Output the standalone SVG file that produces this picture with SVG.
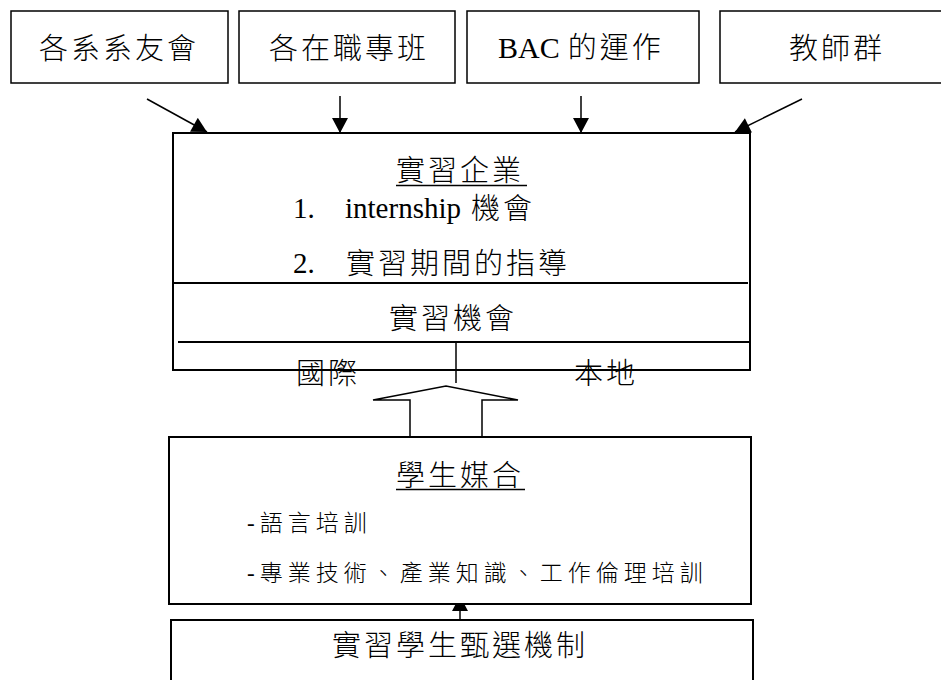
<svg xmlns="http://www.w3.org/2000/svg" width="941" height="680" viewBox="0 0 941 680">
<style>
.bg{fill:#fff}
.top{fill:#fff;stroke:#000;stroke-width:1.5}
.box{fill:#fff;stroke:#000;stroke-width:2}
.ln{stroke:#000;stroke-width:2;fill:none}
.thin{stroke:#000;stroke-width:1.5;fill:none}
.t{font-family:"Liberation Serif","Noto Sans CJK TC",serif;font-size:29px;font-weight:300;letter-spacing:3px;fill:#000}
.s{font-family:"Liberation Serif","Noto Sans CJK TC",serif;font-size:23px;font-weight:300;letter-spacing:5px;fill:#000}
.lat{font-family:"Liberation Serif",serif;font-size:30px;font-weight:400;letter-spacing:0;fill:#000}
.lat2{font-family:"Liberation Serif",serif;font-size:29px;font-weight:400;letter-spacing:0;fill:#000}
</style>
<defs>
<marker id="ah" markerUnits="userSpaceOnUse" markerWidth="16" markerHeight="16" viewBox="0 0 14 15" refX="14" refY="7.5" orient="auto">
<path d="M0,0 L14,7.5 L0,15 z" fill="#000"/>
</marker>
</defs>
<rect class="bg" x="0" y="0" width="941" height="680"/>

<g id="connectors">
<line class="thin" x1="147" y1="99" x2="207" y2="132" marker-end="url(#ah)"/>
<line class="thin" x1="340" y1="96" x2="340" y2="133" marker-end="url(#ah)"/>
<line class="thin" x1="581" y1="96" x2="581" y2="133" marker-end="url(#ah)"/>
<line class="thin" x1="802" y1="99" x2="735" y2="132" marker-end="url(#ah)"/>
<line class="thin" x1="460" y1="628" x2="460" y2="596" marker-end="url(#ah)"/>
<polyline class="thin" points="410,437 410,400 373,400 446,386 518,400 482,400 482,437"/>
</g>

<g id="n-alumni">
<rect class="top" x="11" y="11" width="217" height="72"/>
<text class="t" x="39" y="59">各系系友會</text>
</g>
<g id="n-inservice">
<rect class="top" x="239" y="11" width="216" height="72"/>
<text class="t" x="269" y="59">各在職專班</text>
</g>
<g id="n-bac">
<rect class="top" x="467" y="11" width="232" height="72"/>
<text x="498" y="58"><tspan class="lat">BAC</tspan><tspan class="t" dx="8">的運作</tspan></text>
</g>
<g id="n-teachers">
<rect class="top" x="720" y="11" width="240" height="72"/>
<text class="t" x="789" y="59">教師群</text>
</g>

<g id="n-enterprise">
<rect class="box" x="173" y="133" width="577" height="237"/>
<text class="t" x="396" y="181">實習企業</text>
<line x1="396" y1="185.5" x2="527" y2="185.5" stroke="#000" stroke-width="1.5"/>
<text class="lat2" x="293" y="218">1.</text>
<text class="lat2" x="345" y="218">internship</text>
<text class="t" x="471" y="219">機會</text>
<text class="lat2" x="293" y="273">2.</text>
<text class="t" x="346" y="274">實習期間的指導</text>
<line class="ln" x1="173" y1="283" x2="748" y2="283"/>
<text class="t" x="389" y="329">實習機會</text>
<line class="ln" x1="178" y1="342" x2="750" y2="342"/>
<line class="thin" x1="456" y1="342" x2="456" y2="383"/>
<text class="t" x="296" y="384">國際</text>
<text class="t" x="574" y="384">本地</text>
</g>

<g id="n-matching">
<rect class="box" x="169" y="437" width="582" height="167"/>
<text class="t" x="396" y="486">學生媒合</text>
<line x1="396" y1="489.5" x2="525" y2="489.5" stroke="#000" stroke-width="1.5"/>
<text class="s" x="247" y="531">-語言培訓</text>
<text class="s" x="247" y="581">-專業技術、產業知識、工作倫理培訓</text>
</g>

<g id="n-selection">
<rect class="box" x="171" y="620" width="582" height="80"/>
<text class="t" x="332" y="656">實習學生甄選機制</text>
</g>
</svg>
